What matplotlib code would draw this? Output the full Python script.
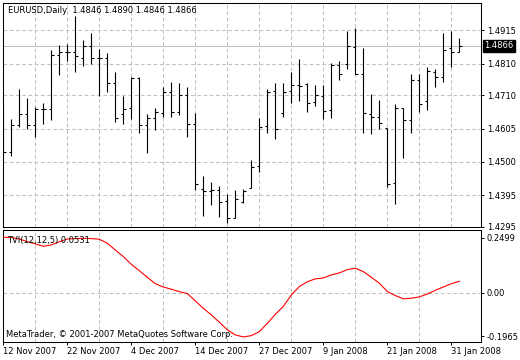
import matplotlib
matplotlib.use('Agg')
import matplotlib.pyplot as plt
import numpy as np

plt.rcParams['font.family'] = ['DejaVu Sans']
FS = 6

# ---- data ----
opens = [1.4650, 1.4530, 1.4616, 1.4650, 1.4616, 1.4666, 1.4666, 1.4838, 1.4846, 1.4846,
         1.4827, 1.4866, 1.4829, 1.4829, 1.4750, 1.4650, 1.4669, 1.4766, 1.4616, 1.4638,
         1.4653, 1.4721, 1.4657, 1.4710, 1.4619, 1.4414, 1.4410, 1.4411, 1.4376, 1.4323,
         1.4375, 1.4419, 1.4487, 1.4612, 1.4724, 1.4653, 1.4724, 1.4742, 1.4747, 1.4688,
         1.4707, 1.4664, 1.4806, 1.4810, 1.4861, 1.4777, 1.4650, 1.4641, 1.4606, 1.4433,
         1.4669, 1.4632, 1.4757, 1.4692, 1.4785, 1.4767, 1.4858, 1.4846]
highs = [1.4680, 1.4635, 1.4730, 1.4702, 1.4674, 1.4685, 1.4853, 1.4869, 1.4872, 1.4961,
         1.4885, 1.4906, 1.4855, 1.4842, 1.4783, 1.4708, 1.4767, 1.4767, 1.4650, 1.4669,
         1.4737, 1.4753, 1.4750, 1.4737, 1.4653, 1.4456, 1.4436, 1.4425, 1.4399, 1.4412,
         1.4414, 1.4506, 1.4640, 1.4730, 1.4750, 1.4750, 1.4782, 1.4825, 1.4750, 1.4743,
         1.4743, 1.4813, 1.4817, 1.4913, 1.4923, 1.4858, 1.4714, 1.4695, 1.4607, 1.4683,
         1.4669, 1.4777, 1.4777, 1.4798, 1.4792, 1.4906, 1.4913, 1.4890]
lows = [1.4527, 1.4520, 1.4611, 1.4605, 1.4580, 1.4621, 1.4632, 1.4774, 1.4819, 1.4782,
        1.4804, 1.4808, 1.4709, 1.4722, 1.4627, 1.4621, 1.4634, 1.4590, 1.4527, 1.4601,
        1.4641, 1.4641, 1.4649, 1.4578, 1.4412, 1.4331, 1.4364, 1.4327, 1.4309, 1.4322,
        1.4372, 1.4417, 1.4469, 1.4590, 1.4572, 1.4641, 1.4685, 1.4693, 1.4656, 1.4677,
        1.4635, 1.4640, 1.4758, 1.4794, 1.4777, 1.4592, 1.4589, 1.4604, 1.4422, 1.4366,
        1.4511, 1.4590, 1.4659, 1.4663, 1.4737, 1.4753, 1.4800, 1.4846]
closes = [1.4530, 1.4616, 1.4650, 1.4616, 1.4666, 1.4668, 1.4838, 1.4846, 1.4846, 1.4834,
          1.4866, 1.4827, 1.4829, 1.4750, 1.4638, 1.4666, 1.4766, 1.4616, 1.4640, 1.4656,
          1.4721, 1.4657, 1.4710, 1.4619, 1.4429, 1.4410, 1.4411, 1.4374, 1.4323, 1.4382,
          1.4408, 1.4485, 1.4610, 1.4722, 1.4604, 1.4721, 1.4742, 1.4738, 1.4686, 1.4710,
          1.4662, 1.4806, 1.4777, 1.4866, 1.4777, 1.4653, 1.4643, 1.4622, 1.4429, 1.4669,
          1.4632, 1.4757, 1.4682, 1.4788, 1.4767, 1.4853, 1.4846, 1.4866]
tvi = [0.253, 0.252, 0.245, 0.233, 0.223, 0.212, 0.218, 0.233, 0.245, 0.247,
       0.248, 0.247, 0.244, 0.226, 0.195, 0.165, 0.130, 0.101, 0.071, 0.042,
       0.027, 0.017, 0.006, -0.003, -0.036, -0.070, -0.100, -0.133, -0.168, -0.191,
       -0.200, -0.194, -0.176, -0.138, -0.097, -0.061, -0.009, 0.029, 0.051, 0.064,
       0.068, 0.082, 0.091, 0.106, 0.112, 0.097, 0.071, 0.044, 0.006, -0.012,
       -0.027, -0.024, -0.018, -0.005, 0.012, 0.027, 0.042, 0.0531]
date_pos = [0, 8, 16, 24, 32, 40, 48, 56]
date_labels = ['12 Nov 2007', '22 Nov 2007', '4 Dec 2007', '14 Dec 2007',
               '27 Dec 2007', '9 Jan 2008', '21 Jan 2008', '31 Jan 2008']
price_ticks = [1.4295, 1.4395, 1.4500, 1.4605, 1.4710, 1.4810, 1.4915]
price_labels = ['1.4295', '1.4395', '1.4500', '1.4605', '1.4710', '1.4810', '1.4915']
tvi_ticks = [-0.1965, 0.0, 0.2499]
tvi_labels = ['-0.1965', '0.00', '0.2499']
last_price = 1.4866
title = 'EURUSD,Daily  1.4846 1.4890 1.4846 1.4866'
ind_title = 'TVI(12,12,5) 0.0531'
copyright_txt = 'MetaTrader, \u00a9 2001-2007 MetaQuotes Software Corp.'

# ---- layout ----
W, H = 520, 360
fig = plt.figure(figsize=(W / 100, H / 100), dpi=100)
fig.patch.set_facecolor('white')


def rect(l, t, r, b):
    return [l / W, 1 - b / H, (r - l) / W, (b - t) / H]


ax = fig.add_axes(rect(2.7, 3, 481, 227))
ax2 = fig.add_axes(rect(2.7, 230, 481, 342))

GRID = dict(color='#c0c0c0', lw=0.75, linestyle=(0, (3.5, 2.5)))
x = np.arange(len(opens))

# ---- price panel ----
ax.set_xlim(-0.075, 59.7)
ax.set_ylim(1.4295, 1.5001)
ax.set_yticks(price_ticks)
ax.set_yticklabels(price_labels)
ax.set_xticks(range(4, 60, 4))
ax.grid(True, **GRID)
ax.set_axisbelow(True)
ax.axhline(last_price, color='#c0c0c0', lw=0.75, zorder=1)
ax.vlines(x, lows, highs, color='black', lw=0.8, zorder=3)
ax.hlines(opens, x - 0.33, x, color='black', lw=0.8, zorder=3)
ax.hlines(closes, x, x + 0.33, color='black', lw=0.8, zorder=3)
ax.tick_params(axis='x', length=0, labelbottom=False)
ax.tick_params(axis='y', left=False, right=True, labelleft=False, labelright=True,
               length=2.2, width=0.7, pad=2, labelsize=FS, direction='out')
ax.annotate('1.4866', xy=(1.0, last_price), xycoords=('axes fraction', 'data'),
            xytext=(2.3, 0), textcoords='offset points', ha='left', va='center',
            color='white', fontsize=FS,
            bbox=dict(boxstyle='square,pad=0.2', fc='black', ec='black'))

# ---- indicator panel ----
ax2.set_xlim(-0.075, 59.7)
ax2.set_ylim(-0.223, 0.286)
ax2.set_yticks(tvi_ticks)
ax2.set_yticklabels(tvi_labels)
ax2.set_xticks(date_pos)
ax2.set_xticklabels(date_labels)
ax2.set_xticks(range(4, 60, 4), minor=True)
ax2.grid(True, which='minor', axis='x', **GRID)
ax2.axhline(0, zorder=1, **GRID)
ax2.plot(x, tvi, color='#ff0000', lw=0.8, zorder=3)
ax2.tick_params(axis='x', which='minor', length=0)
ax2.tick_params(axis='x', which='major', length=2.2, width=0.7, pad=1.5,
                labelsize=FS, direction='out')
ax2.tick_params(axis='y', left=False, right=True, labelleft=False, labelright=True,
                length=2.2, width=0.7, pad=2, labelsize=FS, direction='out')
for lbl in ax2.get_xticklabels():
    lbl.set_ha('left')

for a in (ax, ax2):
    for s in a.spines.values():
        s.set_linewidth(0.75)
        s.set_color('black')

fig.text(8 / W, 1 - 10.7 / H, title, fontsize=FS, ha='left', va='center', color='black')
fig.text(7.3 / W, 1 - 240.7 / H, ind_title, fontsize=FS, ha='left', va='center', color='black')
fig.text(6 / W, 1 - 334.7 / H, copyright_txt, fontsize=FS, ha='left', va='center', color='black')

fig.savefig('out.png', dpi=100)
